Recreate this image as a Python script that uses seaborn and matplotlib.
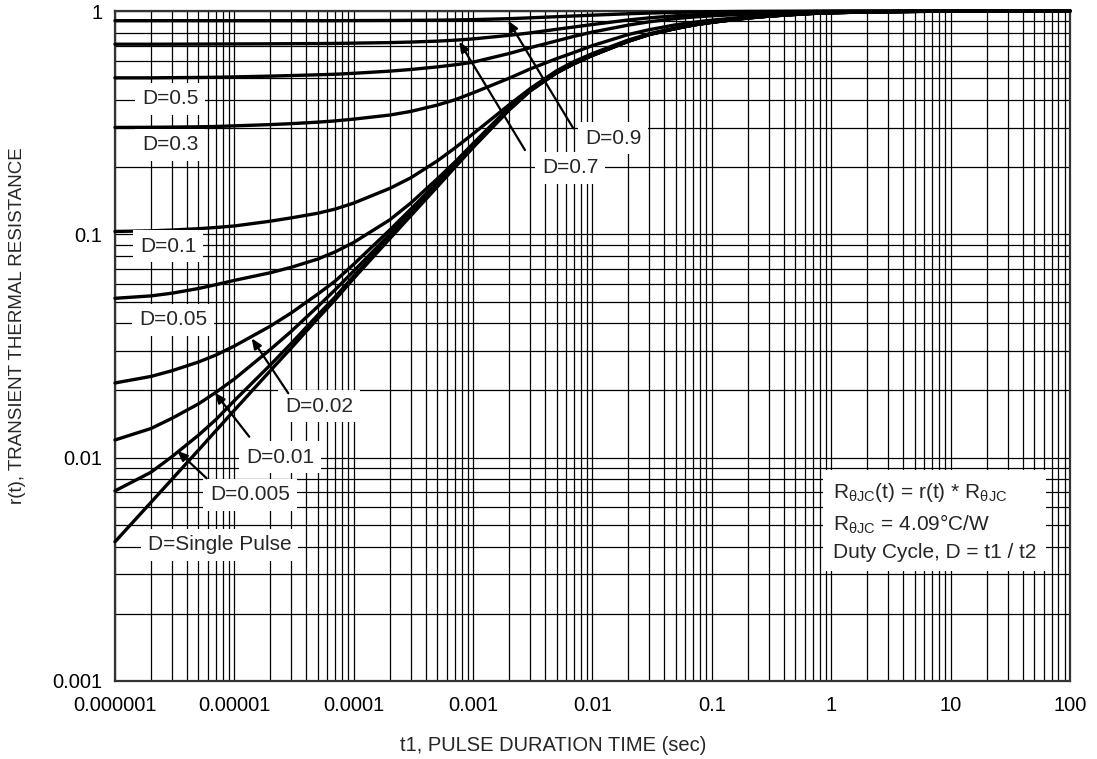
import matplotlib
matplotlib.use("Agg")
from matplotlib import pyplot as plt
import matplotlib.ticker as plticker
import seaborn as sns
import numpy as np
import pandas as pd

# pulse duration (sec)
t1 = [1e-6, 2e-6, 3e-6, 5e-6, 7e-6,
      1e-5, 2e-5, 3e-5, 5e-5, 7e-5,
      1e-4, 2e-4, 3e-4, 5e-4, 7e-4,
      1e-3, 2e-3, 3e-3, 5e-3, 7e-3,
      1e-2, 2e-2, 3e-2, 5e-2, 7e-2,
      0.1, 0.2, 0.3, 0.5, 0.7,
      1, 2, 5, 10, 100]

# r(t) per duty cycle
r_single = [0.0042, 0.0063, 0.0080, 0.0108, 0.0132,
            0.0163, 0.0245, 0.031, 0.042, 0.051,
            0.0635, 0.0955, 0.121, 0.163, 0.199,
            0.245, 0.36, 0.438, 0.528, 0.58,
            0.632, 0.732, 0.785, 0.835, 0.865,
            0.89, 0.93, 0.948, 0.965, 0.975,
            0.982, 0.99, 0.996, 0.998, 1.0]
r_d005 = [0.0071, 0.0086, 0.0101, 0.0126, 0.0148,
          0.018, 0.026, 0.0325, 0.0435, 0.0525,
          0.065, 0.097, 0.1225, 0.1645, 0.20,
          0.246, 0.361, 0.439, 0.529, 0.581,
          0.633, 0.732, 0.785, 0.835, 0.865,
          0.89, 0.93, 0.948, 0.965, 0.975,
          0.982, 0.99, 0.996, 0.998, 1.0]
r_d01 = [0.012, 0.0135, 0.0150, 0.0174, 0.0196,
         0.0225, 0.0305, 0.0368, 0.0475, 0.0565,
         0.0685, 0.10, 0.1255, 0.167, 0.202,
         0.248, 0.363, 0.441, 0.530, 0.582,
         0.634, 0.733, 0.786, 0.836, 0.866,
         0.891, 0.931, 0.949, 0.966, 0.976,
         0.983, 0.99, 0.996, 0.998, 1.0]
r_d02 = [0.0216, 0.0231, 0.0245, 0.0268, 0.0288,
         0.0316, 0.0388, 0.0445, 0.054, 0.0618,
         0.0735, 0.1045, 0.1295, 0.1705, 0.205,
         0.25, 0.366, 0.443, 0.532, 0.583,
         0.635, 0.734, 0.786, 0.836, 0.866,
         0.891, 0.931, 0.949, 0.966, 0.976,
         0.983, 0.99, 0.996, 0.998, 1.0]
r_d05 = [0.0517, 0.053, 0.0545, 0.0572, 0.0595,
         0.0622, 0.0673, 0.0712, 0.0775, 0.0835,
         0.092, 0.116, 0.138, 0.177, 0.21,
         0.255, 0.37, 0.446, 0.535, 0.586,
         0.638, 0.737, 0.788, 0.838, 0.868,
         0.892, 0.932, 0.95, 0.966, 0.976,
         0.983, 0.99, 0.996, 0.998, 1.0]
r_d1 = [0.103, 0.1037, 0.1045, 0.106, 0.1073,
        0.109, 0.1145, 0.1185, 0.1243, 0.1298,
        0.138, 0.1605, 0.179, 0.213, 0.243,
        0.282, 0.38, 0.449, 0.54, 0.594,
        0.645, 0.742, 0.791, 0.84, 0.87,
        0.893, 0.933, 0.95, 0.967, 0.977,
        0.983, 0.99, 0.996, 0.998, 1.0]
r_d3 = [0.301, 0.3015, 0.302, 0.303, 0.304,
        0.306, 0.31, 0.313, 0.318, 0.322,
        0.328, 0.342, 0.355, 0.379, 0.40,
        0.43, 0.50, 0.55, 0.612, 0.652,
        0.70, 0.785, 0.825, 0.868, 0.89,
        0.91, 0.942, 0.956, 0.97, 0.978,
        0.984, 0.991, 0.996, 0.998, 1.0]
r_d5 = [0.502, 0.502, 0.503, 0.504, 0.505,
        0.507, 0.511, 0.514, 0.518, 0.521,
        0.526, 0.538, 0.547, 0.562, 0.574,
        0.59, 0.645, 0.685, 0.735, 0.77,
        0.805, 0.865, 0.895, 0.925, 0.94,
        0.952, 0.968, 0.977, 0.985, 0.989,
        0.992, 0.996, 0.998, 0.999, 1.0]
r_d7 = [0.71, 0.71, 0.7105, 0.711, 0.7115,
        0.712, 0.713, 0.714, 0.715, 0.716,
        0.718, 0.722, 0.726, 0.733, 0.74,
        0.75, 0.778, 0.798, 0.828, 0.848,
        0.87, 0.912, 0.932, 0.952, 0.962,
        0.97, 0.982, 0.987, 0.992, 0.994,
        0.996, 0.998, 0.999, 1.0, 1.0]
r_d9 = [0.905, 0.905, 0.905, 0.905, 0.905,
        0.905, 0.905, 0.905, 0.905, 0.905,
        0.906, 0.907, 0.908, 0.91, 0.912,
        0.915, 0.924, 0.932, 0.943, 0.95,
        0.958, 0.972, 0.979, 0.986, 0.99,
        0.993, 0.996, 0.997, 0.998, 0.999,
        1.0, 1.0, 1.0, 1.0, 1.0]

curve_names = ["Single Pulse", "0.005", "0.01", "0.02", "0.05", "0.1", "0.3", "0.5", "0.7", "0.9"]
curve_values = [r_single, r_d005, r_d01, r_d02, r_d05, r_d1, r_d3, r_d5, r_d7, r_d9]

x_ticks = [1e-6, 1e-5, 1e-4, 1e-3, 1e-2, 1e-1, 1, 10, 100]
x_ticklabels = ["0.000001", "0.00001", "0.0001", "0.001", "0.01", "0.1", "1", "10", "100"]
y_ticks = [0.001, 0.01, 0.1, 1]
y_ticklabels = ["0.001", "0.01", "0.1", "1"]

rows = []
for name, vals in zip(curve_names, curve_values):
    for t, r in zip(t1, vals):
        rows.append([name, t, r])
df = pd.DataFrame(rows, columns=["D", "t1", "r"])

sns.set_style("white")
plt.rcParams['font.family'] = ['Liberation Sans', 'DejaVu Sans']
plt.rcParams['mathtext.fontset'] = 'custom'
plt.rcParams['mathtext.rm'] = 'Liberation Sans'
plt.rcParams['mathtext.default'] = 'regular'

fig = plt.figure(figsize=(10.97, 7.59), dpi=100)
ax = fig.add_axes([0.1048, 0.1028, 0.8706, 0.8827])

sns.lineplot(data=df, x="t1", y="r", hue="D", units="D", estimator=None,
             palette=["black"] * len(curve_names), linewidth=2.4, legend=False, ax=ax)
for ln in ax.lines:
    ln.set_clip_on(False)
    ln.set_zorder(3)
    ln.set_solid_joinstyle("round")

ax.set_xscale("log")
ax.set_yscale("log")
ax.set_xlim(1e-6, 100)
ax.set_ylim(0.001, 1)
ax.set_xticks(x_ticks)
ax.set_xticklabels(x_ticklabels)
ax.set_yticks(y_ticks)
ax.set_yticklabels(y_ticklabels)
ax.xaxis.set_minor_locator(plticker.LogLocator(base=10, subs=np.arange(2, 10), numticks=20))
ax.yaxis.set_minor_locator(plticker.LogLocator(base=10, subs=np.arange(2, 10), numticks=20))
ax.xaxis.set_minor_formatter(plticker.NullFormatter())
ax.yaxis.set_minor_formatter(plticker.NullFormatter())
ax.tick_params(which="both", length=0)
ax.tick_params(axis="x", pad=11, labelsize=14.5, colors="black")
ax.tick_params(axis="y", pad=9, labelsize=14.5, colors="black")
ax.grid(True, which="both", color="black", linewidth=0.9)
ax.set_axisbelow(True)
for s in ax.spines.values():
    s.set_color("#333333")
    s.set_linewidth(1.6)

ax.set_xlabel("t1, PULSE DURATION TIME (sec)", fontsize=14.5)
ax.set_ylabel("r(t), TRANSIENT THERMAL RESISTANCE", fontsize=13.5)
ax.xaxis.set_label_coords(0.459, -0.082)
ax.yaxis.set_label_coords(-0.093, 0.531)

box = dict(boxstyle="square,pad=0.32", facecolor="white", edgecolor="none")
labels = [("D=0.5", 0.0576, 0.8687), ("D=0.3", 0.0576, 0.800), ("D=0.1", 0.0555, 0.649),
          ("D=0.05", 0.0607, 0.5388), ("D=0.02", 0.2136, 0.4104), ("D=0.01", 0.1728, 0.3343),
          ("D=0.005", 0.1414, 0.2776), ("D=Single Pulse", 0.1099, 0.2030),
          ("D=0.9", 0.5215, 0.8104), ("D=0.7", 0.4764, 0.7657)]
for txt, fx, fy in labels:
    ax.text(fx, fy, txt, transform=ax.transAxes, ha="center", va="center",
            fontsize=15, bbox=box, zorder=4)

arrows = [((0.4799, 0.8249), (0.4118, 0.9855)), ((0.4293, 0.7925), (0.3605, 0.9542)),
          ((0.1815, 0.4294), (0.1431, 0.5115)), ((0.1406, 0.3646), (0.1047, 0.4303)),
          ((0.0960, 0.3025), (0.0652, 0.3437))]
for tail, head in arrows:
    ax.annotate("", xy=head, xytext=tail, xycoords="axes fraction", textcoords="axes fraction",
                arrowprops=dict(arrowstyle="-|>,head_length=0.6,head_width=0.25",
                                color="black", lw=1.6, shrinkA=0, shrinkB=0), zorder=5)

info = ("R$_{θJC}$(t) = r(t) * R$_{θJC}$\n"
        "R$_{θJC}$ = 4.09°C/W\n"
        "Duty Cycle, D = t1 / t2")
ax.text(0.7516, 0.238, info, transform=ax.transAxes, ha="left", va="center",
        fontsize=15, linespacing=1.45, zorder=4,
        bbox=dict(boxstyle="square,pad=0.45", facecolor="white", edgecolor="none"))

fig.savefig("out.png", dpi=100)
